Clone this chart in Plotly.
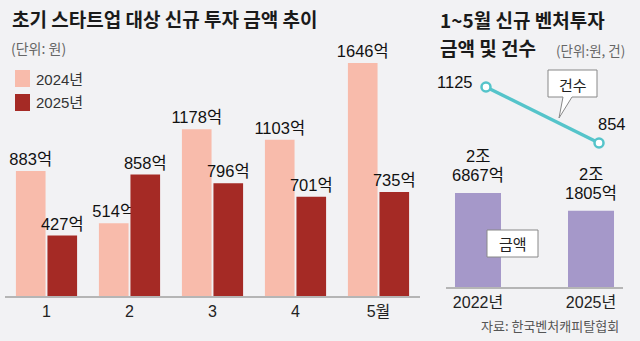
import plotly.graph_objects as go

# ---- data ----
months = ["1", "2", "3", "4", "5월"]
inv_2024 = [883, 514, 1178, 1103, 1646]   # 억원
inv_2025 = [427, 858, 796, 701, 735]      # 억원
years = ["2022년", "2025년"]
amount = [26867, 21805]                   # 억원 (1~5월 신규 벤처투자 금액)
counts = [1125, 854]                      # 건수

W, H = 640, 341
def px(x): return x / W
def py(y): return 1 - y / H

C24 = "#f8bbab"
C25 = "#a52a25"
CPUR = "#a598c9"
CLINE = "#55c4ca"
BG = "#f2f2f4"
NUMFONT = "Liberation Sans, Noto Sans CJK KR, sans-serif"
KFONT = "Noto Sans CJK KR, sans-serif"

fig = go.Figure()

fig.add_trace(go.Bar(
    x=months, y=inv_2024, marker=dict(color=C24, line=dict(width=0)),
    texttemplate="%{y}억", textposition="outside", cliponaxis=False,
    constraintext="none", textfont=dict(family=NUMFONT, size=16.5, color="#111"),
    showlegend=False, xaxis="x", yaxis="y"))
fig.add_trace(go.Bar(
    x=months, y=inv_2025, marker=dict(color=C25, line=dict(width=0)),
    texttemplate="%{y}억", textposition="outside", cliponaxis=False,
    constraintext="none", textfont=dict(family=NUMFONT, size=16.5, color="#111"),
    showlegend=False, xaxis="x", yaxis="y"))

fig.add_trace(go.Bar(
    x=[0, 1], y=amount, width=0.407, marker=dict(color=CPUR, line=dict(width=0)),
    cliponaxis=False, showlegend=False, xaxis="x2", yaxis="y2"))

fig.add_trace(go.Scatter(
    x=[0, 1], y=counts, mode="lines+markers",
    line=dict(color=CLINE, width=3.5),
    marker=dict(size=9, color="white", line=dict(color=CLINE, width=2.5)),
    cliponaxis=False, showlegend=False, xaxis="x3", yaxis="y3"))

fig.update_layout(
    width=W, height=H, margin=dict(l=0, r=0, t=0, b=0),
    paper_bgcolor=BG, plot_bgcolor=BG,
    barmode="group", bargap=0.24, bargroupgap=0.06,
    xaxis=dict(domain=[px(5), px(420)], range=[-0.5, 4.5], showline=True,
               linecolor="#b5b5b5", linewidth=2, ticks="", showgrid=False,
               tickfont=dict(family=NUMFONT, size=16, color="#222"), fixedrange=True,
               anchor="y"),
    yaxis=dict(domain=[py(296), py(60)], range=[0, 1666.7], visible=False, fixedrange=True),
    xaxis2=dict(domain=[px(446), px(623)], range=[-0.283, 1.283], tickvals=[0, 1],
                ticktext=years, showline=True, linecolor="#b5b5b5", linewidth=2,
                ticks="", showgrid=False, zeroline=False,
                tickfont=dict(family=NUMFONT, size=16, color="#222"), anchor="y2"),
    yaxis2=dict(domain=[py(287), py(180)], range=[0, 30583], visible=False),
    xaxis3=dict(domain=[px(454), px(631)], range=[-0.283, 1.283], visible=False, anchor="y3"),
    yaxis3=dict(domain=[py(160), py(60)], range=[771.7, 1255.7], visible=False),
)

ann = []
def text(x, y, s, size, color="#222", family=KFONT, bold=False, xanchor="left"):
    ann.append(dict(x=px(x), y=py(y), xref="paper", yref="paper", text=(f"<b>{s}</b>" if bold else s),
                    showarrow=False, xanchor=xanchor, yanchor="middle",
                    font=dict(family=family, size=size, color=color)))

text(10, 19, "초기 스타트업 대상 신규 투자 금액 추이", 19, "#1a1a1a", bold=True)
text(9, 48, "(단위: 원)", 14, "#666")
text(438, 20, "1~5월 신규 벤처투자", 19, "#1a1a1a", bold=True)
text(438, 48, "금액 및 건수", 19, "#1a1a1a", bold=True)
text(554, 50, "(단위:원, 건)", 13.5, "#666")
text(34, 79, "2024년", 15, "#333", family="Liberation Sans, Noto Sans CJK KR")
text(34, 103, "2025년", 15, "#333", family="Liberation Sans, Noto Sans CJK KR")
text(621, 325, "자료: 한국벤처캐피탈협회", 13, "#555", xanchor="right")
text(572.5, 84, "건수", 15, "#222", xanchor="center")
text(512.5, 243.5, "금액", 15, "#222", xanchor="center")

# amount labels (two lines above each bar)
for i, a in enumerate(amount):
    ann.append(dict(x=i, y=a, xref="x2", yref="y2", text=f"{a // 10000}조", showarrow=False,
                    xanchor="center", yanchor="middle", yshift=37,
                    font=dict(family=NUMFONT, size=16.5, color="#111")))
    ann.append(dict(x=i, y=a, xref="x2", yref="y2", text=f"{a % 10000}억", showarrow=False,
                    xanchor="center", yanchor="middle", yshift=18,
                    font=dict(family=NUMFONT, size=16.5, color="#111")))

# count labels
ann.append(dict(x=0, y=counts[0], xref="x3", yref="y3", text=str(counts[0]), showarrow=False,
                xanchor="right", yanchor="middle", xshift=-12, yshift=5,
                font=dict(family=NUMFONT, size=16.5, color="#111")))
ann.append(dict(x=1, y=counts[1], xref="x3", yref="y3", text=str(counts[1]), showarrow=False,
                xanchor="center", yanchor="bottom", xshift=13, yshift=8,
                font=dict(family=NUMFONT, size=16.5, color="#111")))
fig.update_layout(annotations=ann)

def path(points):
    return "M " + " L ".join(f"{px(x)},{py(y)}" for x, y in points) + " Z"

shapes = [
    dict(type="rect", xref="paper", yref="paper", x0=px(15), x1=px(30), y0=py(70), y1=py(87),
         fillcolor=C24, line=dict(width=0)),
    dict(type="rect", xref="paper", yref="paper", x0=px(15), x1=px(30), y0=py(94), y1=py(111),
         fillcolor=C25, line=dict(width=0)),
    dict(type="path", xref="paper", yref="paper",
         path=path([(548, 70), (597, 70), (597, 97), (572, 97), (559, 118), (563, 97), (548, 97)]),
         fillcolor="white", line=dict(color="#888", width=1)),
    dict(type="rect", xref="paper", yref="paper", x0=px(487), x1=px(538), y0=py(230), y1=py(257),
         fillcolor="white", line=dict(color="#888", width=1)),
]
fig.update_layout(shapes=shapes)

fig.write_html("out.html")
